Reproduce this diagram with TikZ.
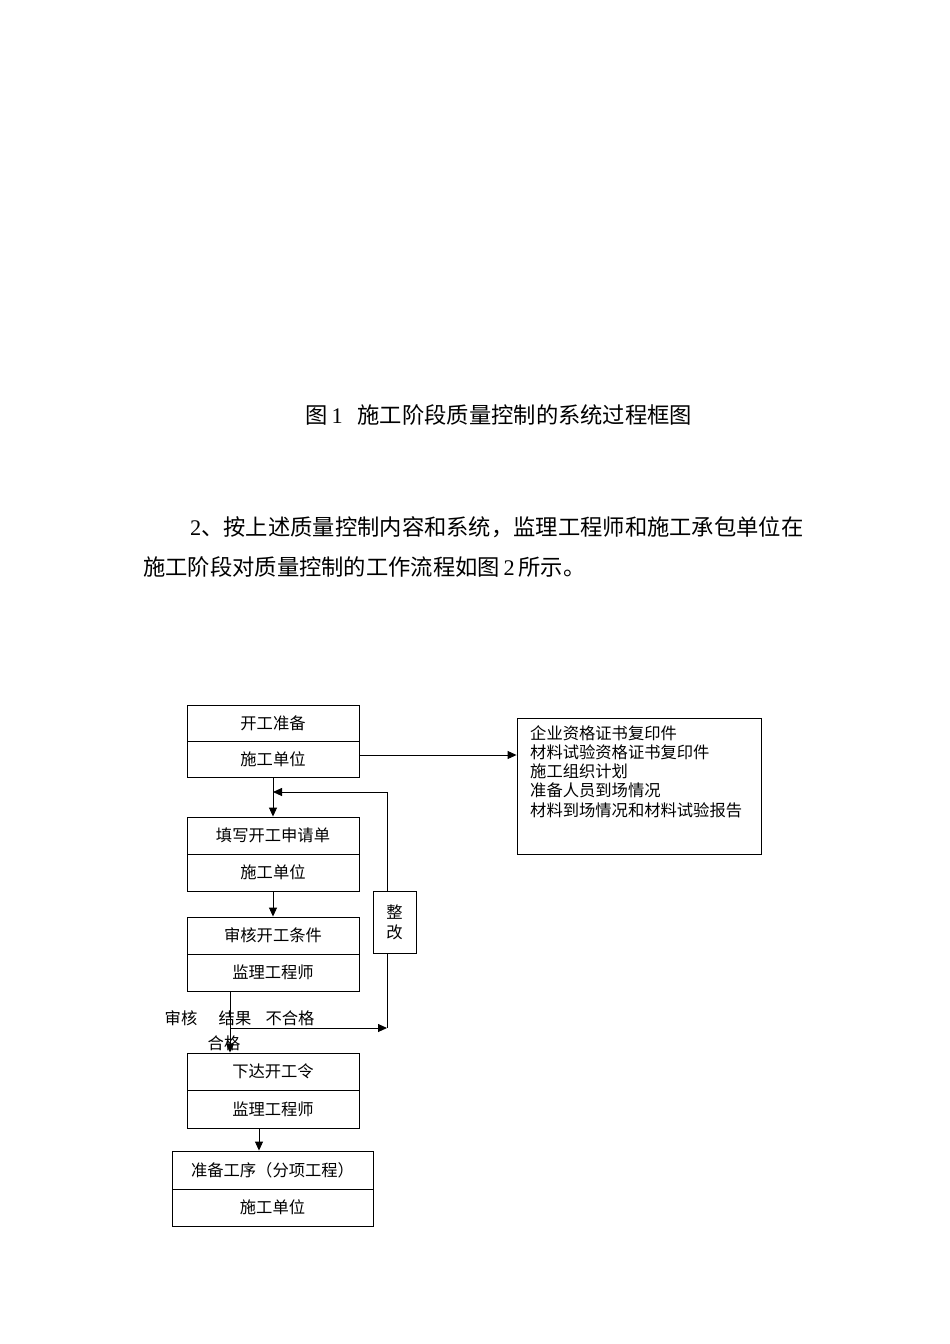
\documentclass[tikz,border=0pt]{standalone}
\usepackage{fontspec}
\setmainfont{Noto Sans CJK SC}
\newfontfamily\latin{Liberation Serif}
\usetikzlibrary{arrows.meta}
\begin{document}
\begin{tikzpicture}[x=1pt,y=1pt,
  cell/.style={draw,line width=0.9pt,minimum width=172pt,inner sep=0pt,font=\fontsize{16.3}{18}\selectfont},
  arr/.style={line width=0.9pt,-{Triangle[length=9pt,width=8pt]}},
  ln/.style={line width=0.9pt},
  body/.style={inner sep=0pt,font=\fontsize{22.3}{26}\selectfont},
  lbl/.style={inner sep=0pt,font=\fontsize{16.3}{18}\selectfont}]
\useasboundingbox (0,0) rectangle (950,-1344);
\fill[white] (0,0) rectangle (950,-1344);
% body text
\node[body,anchor=west] (cap) at (305,-415) {图\hspace{4pt}{\latin 1}\hspace{15pt}施工阶段质量控制的系统过程框图};
\node[body,anchor=west] (p1) at (190,-527) {{\latin 2}、按上述质量控制内容和系统，监理工程师和施工承包单位在};
\node[body,anchor=west] (p2) at (143,-567) {施工阶段对质量控制的工作流程如图{\latin\,2\,}所示。};
% boxes
\node[cell,minimum height=36pt] (b1a) at (273,-723) {开工准备};
\node[cell,minimum height=36pt] (b1b) at (273,-759) {施工单位};
\node[cell,minimum height=37pt] (b2a) at (273,-835.5) {填写开工申请单};
\node[cell,minimum height=37pt] (b2b) at (273,-872.5) {施工单位};
\node[cell,minimum height=37pt] (b3a) at (273,-935.5) {审核开工条件};
\node[cell,minimum height=37pt] (b3b) at (273,-972.5) {监理工程师};
\node[cell,minimum height=37pt] (b4a) at (273,-1071.5) {下达开工令};
\node[cell,minimum height=38pt] (b4b) at (273,-1109) {监理工程师};
\node[cell,minimum width=201pt,minimum height=38pt] (b5a) at (272.5,-1170) {准备工序（分项工程）};
\node[cell,minimum width=201pt,minimum height=37pt] (b5b) at (272.5,-1207.5) {施工单位};
\node[draw,line width=0.9pt,minimum width=244pt,minimum height=136pt] (info) at (639,-786) {};
\node[anchor=north west,align=left,inner sep=0pt,font=\fontsize{16.3}{19.3}\selectfont] (infot) at (530,-725)
  {企业资格证书复印件\\材料试验资格证书复印件\\施工组织计划\\准备人员到场情况\\材料到场情况和材料试验报告};
\node[draw,line width=0.9pt,minimum width=43pt,minimum height=62pt,align=center,inner sep=0pt,font=\fontsize{16.3}{20}\selectfont] (zg) at (394.5,-922) {整\\改};
% labels
\node[lbl] (l1) at (181,-1018) {审核};
\node[lbl] (l2) at (235,-1018) {结果};
\node[lbl] (l3) at (290,-1018) {不合格};
\node[lbl] (l4) at (224,-1043) {合格};
% coordinates
\coordinate (r) at (0,-755);
\coordinate (fb) at (387,-792);
\coordinate (j) at (230,-1028);
\coordinate (k) at (259,0);
\coordinate (zx) at (387,0);
% connectors
\draw[arr] (b1b.east |- r) -- (info.west |- r);
\draw[arr] (b1b.south) -- (b2a.north);
\draw[arr] (b2b.south) -- (b3a.north);
\draw[arr] (zg.north -| zx) -- (fb) -- (b1b.south |- fb);
\draw[arr] (b3b.south -| j) -- (b4a.north -| j);
\draw[ln] (zg.south -| zx) -- (zx |- j);
\draw[arr] (j) -- (zx |- j);
\draw[arr] (b4b.south -| k) -- (b5a.north -| k);
\end{tikzpicture}
\end{document}
